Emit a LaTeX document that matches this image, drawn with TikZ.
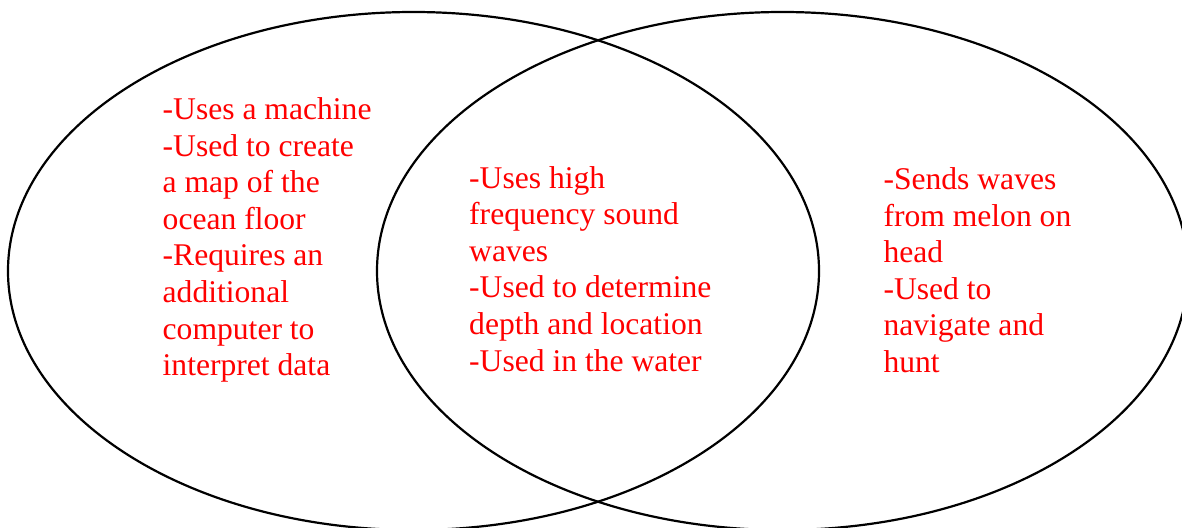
\documentclass[tikz,border=0pt]{standalone}
\usepackage{fontspec}
\setmainfont{Liberation Serif}
\usetikzlibrary{shapes.geometric}
\begin{document}
\begin{tikzpicture}[x=1pt,y=-1pt,
  circ/.style={draw=black,line width=2.2pt,ellipse,inner sep=0pt,minimum width=811pt,minimum height=518pt},
  txt/.style={text=red,align=left,anchor=base west,inner sep=0pt,font={\fontsize{31.6}{36.6}\selectfont}}]
\useasboundingbox (0,0) rectangle (1182,527);
\clip (0,0) rectangle (1182,527);
\node[circ] (L) at (413.5,271) {};
\node[circ] (R) at (782.5,271) {};
\node[txt] (tl) at (162.5,375.6) {-Uses a machine\\-Used to create\\a map of the\\ocean floor\\-Requires an\\additional\\computer to\\interpret data};
\node[txt] (tm) at (469,371) {-Uses high\\frequency sound\\waves\\-Used to determine\\depth and location\\-Used in the water};
\node[txt] (tr) at (883.3,372.5) {-Sends waves\\from melon on\\head\\-Used to\\navigate and\\hunt};
\end{tikzpicture}
\end{document}
